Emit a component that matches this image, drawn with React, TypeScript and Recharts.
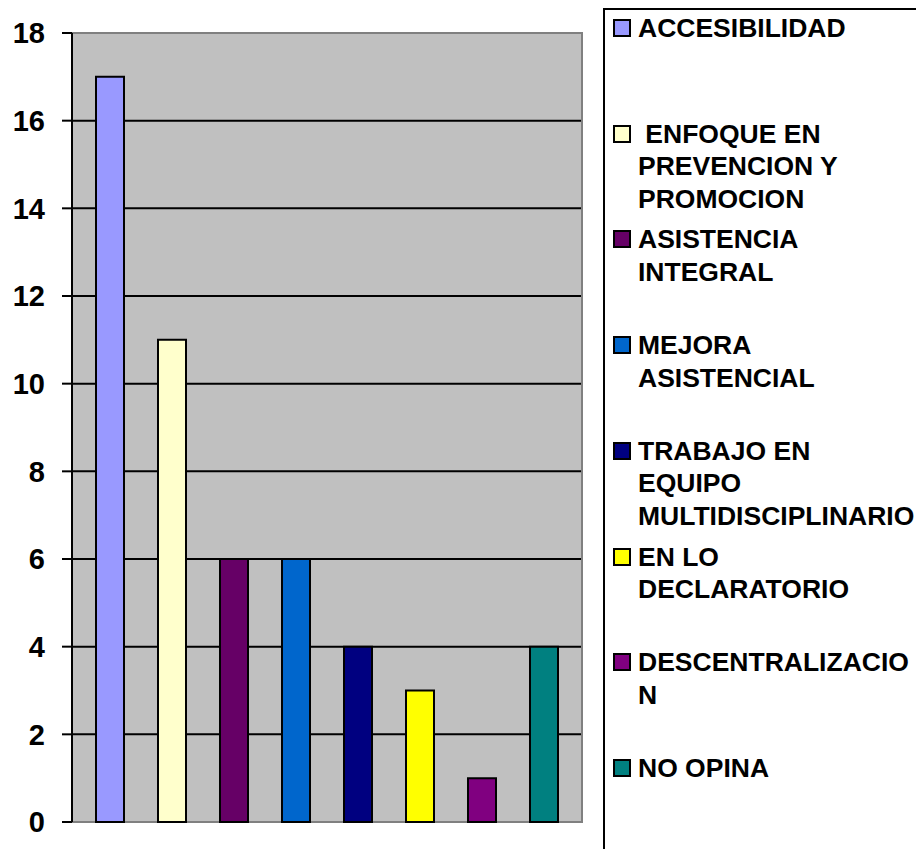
import { BarChart, Bar, XAxis, YAxis, CartesianGrid, Legend, ReferenceArea } from "recharts";

const seriesKeys = ["acc", "enf", "asi", "mej", "tra", "dec", "des", "nop"];
const seriesNames = [
  "ACCESIBILIDAD",
  " ENFOQUE EN\nPREVENCION Y\nPROMOCION",
  "ASISTENCIA\nINTEGRAL",
  "MEJORA\nASISTENCIAL",
  "TRABAJO EN\nEQUIPO\nMULTIDISCIPLINARIO",
  "EN LO\nDECLARATORIO",
  "DESCENTRALIZACIO\nN",
  "NO OPINA",
];
const seriesValues = [17, 11, 6, 6, 4, 3, 1, 4];
const seriesColors = ["#9999FF", "#FFFFCC", "#660066", "#0066CC", "#000080", "#FFFF00", "#800080", "#008080"];
const yTicks = [0, 2, 4, 6, 8, 10, 12, 14, 16, 18];

const row: Record<string, number | string> = { name: "" };
seriesKeys.forEach((k, i) => (row[k] = seriesValues[i]));
const data = [row];

const FONT = "Arial, 'Liberation Sans', sans-serif";

function LegendBox() {
  return (
    <div style={{ position: "relative", width: "100%", height: "100%", fontFamily: FONT }}>
      {seriesNames.map((name, i) => (
        <div key={i} style={{ position: "absolute", left: 0, top: 2 + i * 105.7, display: "flex" }}>
          <div
            style={{
              width: 14,
              height: 14,
              marginLeft: 8,
              marginTop: 7,
              background: seriesColors[i],
              border: "2px solid #000",
            }}
          />
          <div
            style={{
              marginLeft: 7,
              fontSize: 26.5,
              fontWeight: "bold",
              lineHeight: "32.5px",
              whiteSpace: "pre",
              color: "#000",
            }}
          >
            {name}
          </div>
        </div>
      ))}
    </div>
  );
}

export default function App() {
  return (
    <div style={{ position: "absolute", left: 0, top: 0, width: 916, height: 849, background: "#fff" }}>
      <BarChart
        width={916}
        height={849}
        data={data}
        barSize={28}
        barGap={34}
        margin={{ top: 33, right: 21, bottom: 0, left: 0 }}
      >
        <CartesianGrid
          vertical={false}
          horizontalValues={[2, 4, 6, 8, 10, 12, 14, 16]}
          stroke="#000"
          strokeWidth={2}
          fill="#C0C0C0"
        />
        <ReferenceArea y1={0} y2={18} fill="none" stroke="#808080" strokeWidth={2} ifOverflow="visible" />
        <XAxis dataKey="name" hide />
        <XAxis
          xAxisId="frame"
          type="number"
          domain={[0, 1]}
          ticks={[0, 1]}
          height={27}
          tickSize={10}
          tickFormatter={() => ""}
          axisLine={{ stroke: "#000", strokeWidth: 2 }}
          tickLine={{ stroke: "#000", strokeWidth: 2 }}
        />
        <YAxis
          width={72}
          domain={[0, 18]}
          ticks={yTicks}
          interval={0}
          tickSize={10}
          tickMargin={17}
          axisLine={{ stroke: "#000", strokeWidth: 2 }}
          tickLine={{ stroke: "#000", strokeWidth: 2 }}
          tick={{ fill: "#000", fontSize: 29, fontWeight: "bold", fontFamily: FONT }}
        />
        <Legend
          layout="vertical"
          align="right"
          verticalAlign="top"
          content={() => <LegendBox />}
          wrapperStyle={{
            left: 603,
            top: 8,
            right: "auto",
            width: 313,
            height: 841,
            boxSizing: "border-box",
            borderLeft: "2px solid #000",
            borderTop: "2px solid #000",
            background: "#fff",
          }}
        />
        {seriesKeys.map((k, i) => (
          <Bar
            key={k}
            dataKey={k}
            name={seriesNames[i]}
            fill={seriesColors[i]}
            stroke="#000"
            strokeWidth={2}
            isAnimationActive={false}
          />
        ))}
      </BarChart>
    </div>
  );
}
